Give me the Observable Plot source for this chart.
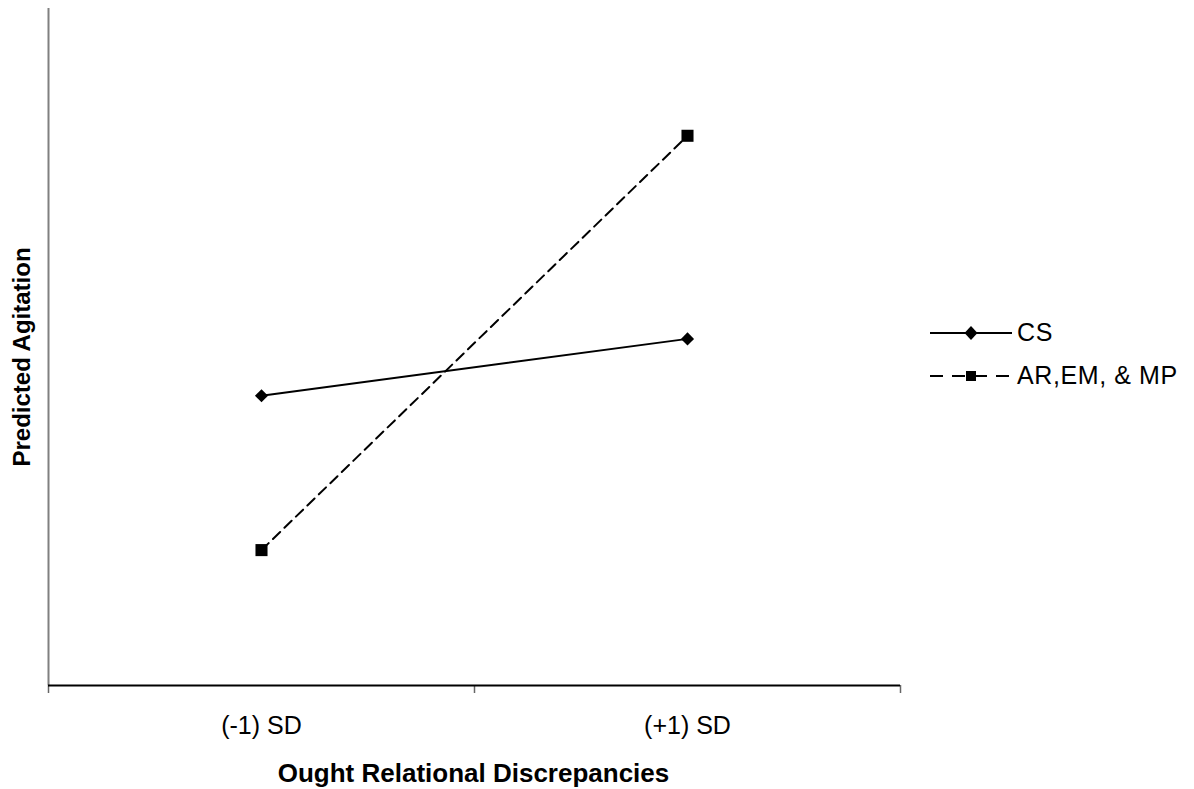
<!DOCTYPE html>
<html>
<head>
<meta charset="utf-8">
<script src="https://cdn.jsdelivr.net/npm/d3@7"></script>
<script src="https://cdn.jsdelivr.net/npm/@observablehq/plot@0.6"></script>
<style>
  html, body { margin: 0; padding: 0; background: #fff; }
  #wrap { position: relative; width: 1194px; height: 789px; font-family: "Liberation Sans", Arial, sans-serif; }
  #legend { position: absolute; left: 930px; top: 311px; font-size: 25px; letter-spacing: 0.6px; color: #000; }
  .row { display: flex; align-items: center; height: 43px; }
  .row span { margin-left: 5px; line-height: 1; }
</style>
</head>
<body>
<div id="wrap"><div id="legend"></div></div>
<script>
const categories = ["(-1) SD", "(+1) SD"];
const seriesNames = ["CS", "AR,EM, & MP"];
const csValues = [2.14, 2.56];
const arValues = [1.00, 4.06];
const xTitle = "Ought Relational Discrepancies";
const yTitle = "Predicted Agitation";

const catPos = categories.map((c, i) => i + 0.5);
const rows = [];
categories.forEach((c, i) => {
  rows.push({series: seriesNames[0], x: catPos[i], y: csValues[i]});
  rows.push({series: seriesNames[1], x: catPos[i], y: arValues[i]});
});
const cs = rows.filter(d => d.series === seriesNames[0]);
const ar = rows.filter(d => d.series === seriesNames[1]);

const chart = Plot.plot({
  width: 1194,
  height: 789,
  marginLeft: 48,
  marginRight: 294,
  marginTop: 8,
  marginBottom: 104,
  style: {fontFamily: "'Liberation Sans', Arial, sans-serif", background: "#fff", color: "#000", overflow: "visible"},
  x: {type: "linear", domain: [0, categories.length], axis: null},
  y: {domain: [0, 5], axis: null},
  marks: [
    Plot.ruleX([0], {stroke: "#808080", strokeWidth: 2}),
    Plot.axisX(d3.range(categories.length + 1), {label: null, tickSize: 8, stroke: "#666", strokeWidth: 1.5, tickFormat: () => ""}),
    Plot.axisX(catPos, {label: null, tickSize: 0, tickPadding: 31, fontSize: 25, tickFormat: d => categories[d - 0.5], fill: "#000", style: {letterSpacing: "0.6px"}}),
    Plot.ruleY([0], {stroke: "#000", strokeWidth: 2}),
    Plot.text([xTitle], {frameAnchor: "bottom", lineAnchor: "bottom", dy: 96, fontSize: 26, fontWeight: "bold", fill: "#000", dx: -1}),
    Plot.text([yTitle], {frameAnchor: "left", rotate: -90, dx: -26, dy: 10, textAnchor: "middle", lineAnchor: "middle", fontSize: 24, fontWeight: "bold", fill: "#000"}),
    Plot.line(cs, {x: "x", y: "y", stroke: "#000", strokeWidth: 2}),
    Plot.line(ar, {x: "x", y: "y", stroke: "#000", strokeWidth: 2, strokeDasharray: "10,6"}),
    Plot.dot(cs, {x: "x", y: "y", symbol: "diamond2", r: 5.9, fill: "#000", stroke: "none"}),
    Plot.dot(ar, {x: "x", y: "y", symbol: "square", r: 6.8, fill: "#000", stroke: "none"})
  ]
});
document.getElementById("wrap").prepend(chart);
chart.style.position = "absolute";
chart.style.left = "0";
chart.style.top = "0";

const legend = document.getElementById("legend");
const swatches = [
  {dash: null, sym: '<path d="M41,3 L47.5,10 L41,17 L34.5,10 Z" fill="#000"/>'},
  {dash: "13,9", sym: '<rect x="36" y="5" width="10" height="10" fill="#000"/>'}
];
seriesNames.forEach((name, i) => {
  const row = document.createElement("div");
  row.className = "row";
  const s = swatches[i];
  row.innerHTML = `<svg width="82" height="20"><line x1="0" x2="82" y1="10" y2="10" stroke="#000" stroke-width="2"${s.dash ? ` stroke-dasharray="${s.dash}"` : ""}/>${s.sym}</svg><span>${name}</span>`;
  legend.appendChild(row);
});
</script>
</body>
</html>
